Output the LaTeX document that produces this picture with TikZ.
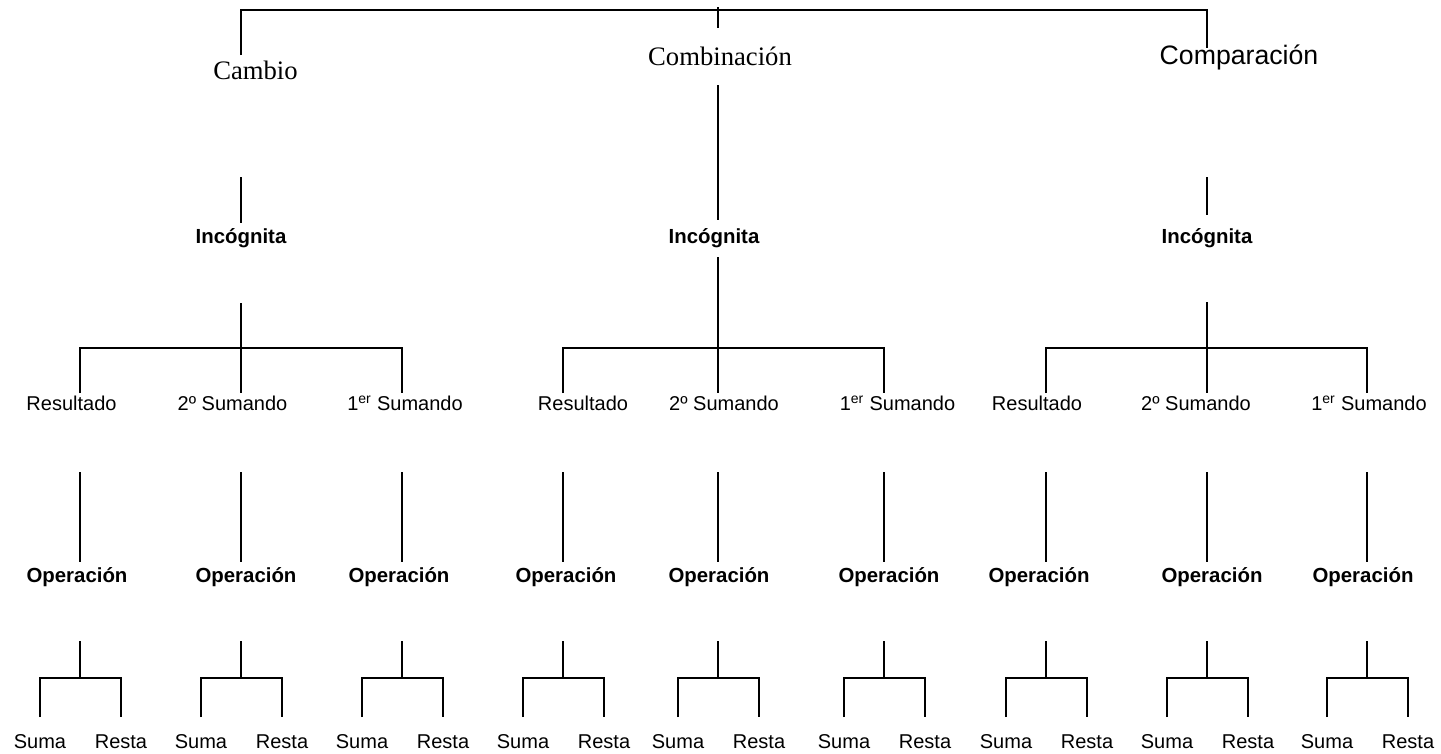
\documentclass[tikz,border=0pt]{standalone}
\usepackage{fontspec}
\setmainfont{Liberation Serif}
\newfontfamily\arialfont{Liberation Sans}
\begin{document}
\begin{tikzpicture}[x=0.75pt,y=-0.75pt,
  link/.style={line width=1.5pt},
  serif/.style={font=\fontsize{20}{24}\selectfont, inner sep=0pt, anchor=base},
  sanstop/.style={font=\arialfont\fontsize{20}{24}\selectfont, inner sep=0pt, anchor=base},
  sans/.style={font=\arialfont\fontsize{15}{18}\selectfont, inner sep=0pt, anchor=base},
  sansbold/.style={font=\arialfont\bfseries\fontsize{15.3}{18}\selectfont, inner sep=0pt, anchor=base}]
\useasboundingbox (0,0) rectangle (1441,753);

% problem types
\node[serif]   (cambio)      at (255.5,79) {Cambio};
\node[serif]   (combinacion) at (720,65)   {Combinación};
\node[sanstop] (comparacion) at (1239,64)  {Comparación};

\coordinate (tl) at (241,10);
\coordinate (tr) at (1207,10);
\draw[link] (241,55) -- (tl) -- (tr) -- (1207,48);
\draw[link] (718,7) -- (718,28);

% unknown quantity
\node[sansbold] (inc1) at (241,243) {Incógnita};
\node[sansbold] (inc2) at (714,243) {Incógnita};
\node[sansbold] (inc3) at (1207,243) {Incógnita};
\draw[link] (241,177) -- (241,223);
\draw[link] (718,85) -- (718,220);
\draw[link] (1207,177) -- (1207,215);

% three branches per type: columns, label centres
\foreach \g/\a/\b/\c/\top/\la/\lb/\lc in
  {1/80/241/402/303/71.5/232.5/405,
   2/563/718/884/257/583/724/897.5,
   3/1046/1207/1367/302/1037/1196/1369}{
  \draw[link] (\b,\top) -- (\b,348);
  \draw[link] (\a,393) -- (\a,348) -- (\c,348) -- (\c,393);
  \draw[link] (\b,348) -- (\b,393);
  \node[sans] (res\g) at (\la,410) {Resultado};
  \node[sans] (sdo\g) at (\lb,410) {2º Sumando};
  \node[sans] (pri\g) at (\lc,410) {1\textsuperscript{er} Sumando};
}

% operation level: column / label centre
\foreach \i/\x/\ox in {1/80/77, 2/241/246, 3/402/399,
                       4/563/566, 5/718/719, 6/884/889,
                       7/1046/1039, 8/1207/1212, 9/1367/1363}{
  \draw[link] (\x,472) -- (\x,562);
  \node[sansbold] (op\i) at (\ox,582) {Operación};
  \draw[link] (\x,641) -- (\x,678);
  \draw[link] (\x-40,717) -- (\x-40,678) -- (\x+41,678) -- (\x+41,717);
  \node[sans] (suma\i)  at (\x-40,748) {Suma};
  \node[sans] (resta\i) at (\x+41,748) {Resta};
}
\end{tikzpicture}
\end{document}
